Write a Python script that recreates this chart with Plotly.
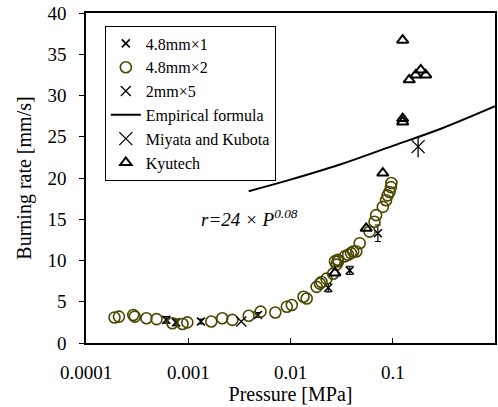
import plotly.graph_objects as go

# ---- data ----
circ_P = [0.00019, 0.00021, 0.00029, 0.00030, 0.00039, 0.00049, 0.00070, 0.00088, 0.00098,
          0.00168, 0.00215, 0.0027, 0.0039, 0.0051, 0.0071, 0.0092, 0.0103, 0.0134, 0.0144,
          0.018, 0.0194, 0.0201, 0.0225, 0.0261, 0.0272, 0.0282, 0.029, 0.0292, 0.034, 0.0366,
          0.039, 0.041, 0.044, 0.0475, 0.0593, 0.0663, 0.0688, 0.080, 0.086, 0.089, 0.093,
          0.096, 0.097]
circ_r = [3.1, 3.2, 3.4, 3.2, 3.0, 2.9, 2.4, 2.3, 2.5,
          2.6, 3.0, 2.8, 3.3, 3.8, 3.7, 4.4, 4.6, 5.6, 5.4,
          6.8, 7.2, 7.4, 7.8, 8.4, 9.9, 9.5, 10.1, 9.9, 10.5, 10.7,
          10.9, 11.1, 11.1, 12.1, 13.5, 14.7, 15.5, 16.5, 17.3, 17.9, 18.3,
          18.9, 19.4]

x1_P = [0.00061, 0.00076, 0.00133, 0.0048, 0.0234, 0.038, 0.0715]
x1_r = [2.8, 2.5, 2.6, 3.4, 6.7, 8.8, 13.3]
x1_err = [0.4, 0.4, 0.3, 0.3, 0.5, 0.5, 1.0]

x5_P = [0.0033]
x5_r = [2.6]

miy_P = [0.177]
miy_r = [23.8]

kyu_P = [0.0272, 0.055, 0.080, 0.125, 0.125, 0.125, 0.145, 0.168, 0.188, 0.21]
kyu_r = [8.5, 13.9, 20.6, 26.8, 27.2, 36.7, 31.9, 32.5, 33.1, 32.5]

emp_P = [0.0039, 0.01, 0.03, 0.1, 0.3, 1.0]
emp_r = [18.4, 19.8, 21.6, 23.9, 26.0, 28.7]

x_tickvals = [0.0001, 0.001, 0.01, 0.1, 1]
x_ticktext = ["0.0001", "0.001", "0.01", "0.1", "1"]

FONT = "Liberation Serif, DejaVu Serif, serif"
OLIVE = "#4a4700"

fig = go.Figure()

fig.add_trace(go.Scatter(
    x=x1_P, y=x1_r, mode="markers", name="4.8mm×1", legendgroup="a",
    marker=dict(symbol="x-thin", size=8, line=dict(width=1.6, color="black"), color="black"),
    error_y=dict(type="data", array=x1_err, color="black", thickness=1.2, width=3),
))
fig.add_trace(go.Scatter(
    x=circ_P, y=circ_r, mode="markers", name="4.8mm×2", legendgroup="b",
    marker=dict(symbol="circle-open", size=11, line=dict(width=1.6, color=OLIVE), color=OLIVE),
))
fig.add_trace(go.Scatter(
    x=x5_P, y=x5_r, mode="markers", name="2mm×5", legendgroup="c",
    marker=dict(symbol="x-thin", size=10, line=dict(width=1.3, color="black"), color="black"),
))
fig.add_trace(go.Scatter(
    x=emp_P, y=emp_r, mode="lines", name="Empirical formula", legendgroup="d",
    line=dict(color="black", width=2, shape="spline"),
))
fig.add_trace(go.Scatter(
    x=miy_P, y=miy_r, mode="markers", name="Miyata and Kubota", legendgroup="e",
    marker=dict(symbol="x-thin", size=13, line=dict(width=1.3, color="black"), color="black"),
))
fig.add_trace(go.Scatter(
    x=miy_P, y=miy_r, mode="markers", showlegend=False, legendgroup="e",
    marker=dict(symbol="line-ns", size=15, line=dict(width=1.3, color="black"), color="black"),
    hoverinfo="skip",
))
fig.add_trace(go.Scatter(
    x=kyu_P, y=kyu_r, mode="markers", name="Kyutech", legendgroup="f",
    marker=dict(symbol="triangle-up-open", size=10, line=dict(width=2, color="black"), color="black"),
))

fig.add_annotation(
    x=-2.4, y=15.2, xref="x", yref="y",
    text="<i>r=24 × P<sup>0.08</sup></i>", showarrow=False,
    font=dict(family=FONT, size=19, color="black"),
)

axis_common = dict(
    showline=True, linecolor="black", linewidth=1.5, mirror=True,
    showgrid=False, zeroline=False, ticklen=5, tickcolor="black",
    tickfont=dict(family=FONT, size=19, color="black"), automargin=False,
)

fig.update_xaxes(
    type="log", range=[-4, 0], tickvals=x_tickvals, ticktext=x_ticktext,
    ticks="inside", ticklabelstandoff=11,
    title=dict(text="Pressure [MPa]", font=dict(family=FONT, size=20, color="black"), standoff=0),
    **axis_common,
)
fig.update_yaxes(
    range=[0, 40], dtick=5, ticks="outside", ticklabelstandoff=9,
    title=dict(text="Burning rate [mm/s]", font=dict(family=FONT, size=20, color="black"), standoff=10),
    **axis_common,
)

fig.update_layout(
    width=498, height=407,
    margin=dict(l=86, r=3, t=13, b=64),
    plot_bgcolor="white", paper_bgcolor="white",
    legend=dict(
        x=0.046, y=0.962, xanchor="left", yanchor="top",
        bordercolor="black", borderwidth=1, bgcolor="white",
        font=dict(family=FONT, size=16, color="black"),
        traceorder="grouped", tracegroupgap=0,
    ),
    font=dict(family=FONT),
)

fig.write_html("out.html", post_script="document.body.style.margin='0px';",
               config={"displayModeBar": False})
